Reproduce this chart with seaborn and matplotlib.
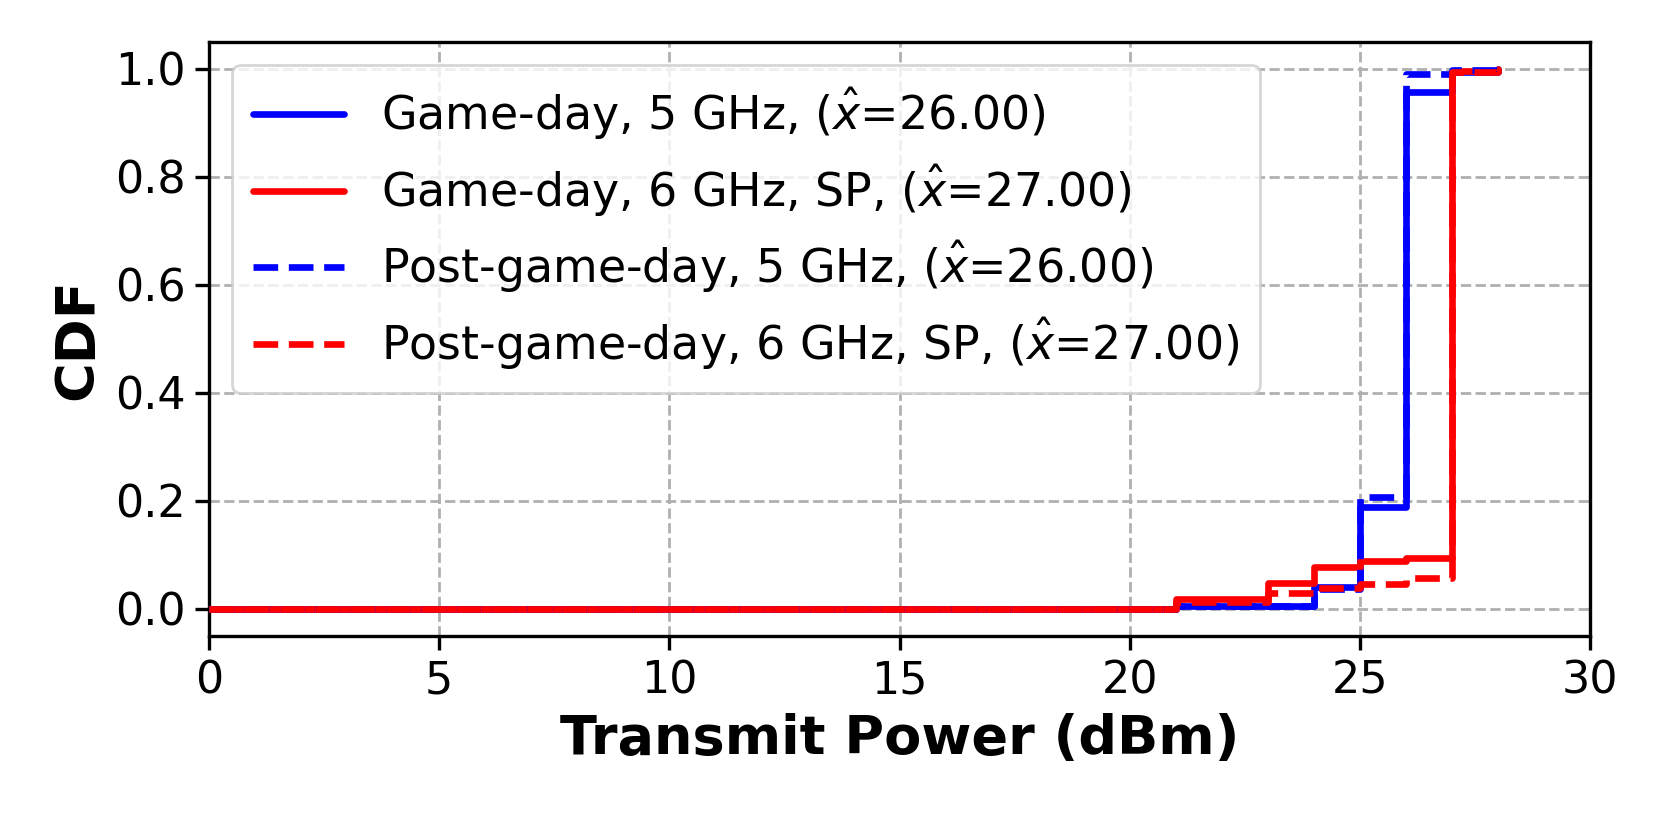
import numpy as np
import pandas as pd
import matplotlib
matplotlib.use("Agg")
import matplotlib.pyplot as plt
import seaborn as sns

# Step CDF points (transmit power dBm, CDF value)
power = [0, 21, 23, 24, 25, 26, 27, 28]
gd_5 = [0.0, 0.005, 0.005, 0.04, 0.188, 0.957, 0.995, 1.0]
gd_6 = [0.0, 0.018, 0.047, 0.077, 0.088, 0.093, 0.996, 1.0]
pgd_5 = [0.0, 0.005, 0.005, 0.036, 0.206, 0.99, 0.998, 1.0]
pgd_6 = [0.0, 0.012, 0.028, 0.038, 0.045, 0.057, 0.995, 1.0]

labels = [
    r"Game-day, 5 GHz, ($\hat{x}$=26.00)",
    r"Game-day, 6 GHz, SP, ($\hat{x}$=27.00)",
    r"Post-game-day, 5 GHz, ($\hat{x}$=26.00)",
    r"Post-game-day, 6 GHz, SP, ($\hat{x}$=27.00)",
]

sns.set_style("ticks")
plt.rcParams["font.family"] = ["DejaVu Sans"]
plt.rcParams["mathtext.fontset"] = "dejavusans"
plt.rcParams["text.color"] = "black"
plt.rcParams["axes.labelcolor"] = "black"
plt.rcParams["xtick.color"] = "black"
plt.rcParams["ytick.color"] = "black"

fig = plt.figure(figsize=(1661 / 200, 830 / 200), dpi=200)
ax = fig.add_axes([209 / 1661, 1 - 635.5 / 830, (1590 - 209) / 1661, (635.5 - 42) / 830])

series = [(gd_5, "blue", "-"), (gd_6, "red", "-"), (pgd_5, "blue", "--"), (pgd_6, "red", "--")]
for (vals, col, ls), lab in zip(series, labels):
    df = pd.DataFrame({"power": power, "cdf": vals})
    sns.lineplot(data=df, x="power", y="cdf", color=col, linestyle=ls, linewidth=2.4,
                 drawstyle="steps-post", label=lab, ax=ax, zorder=3)

ax.set_xlim(0, 30)
ax.set_ylim(-0.05, 1.05)
ax.set_xticks([0, 5, 10, 15, 20, 25, 30])
ax.set_yticks([0.0, 0.2, 0.4, 0.6, 0.8, 1.0])
ax.set_yticklabels(["0.0", "0.2", "0.4", "0.6", "0.8", "1.0"])
ax.grid(True, linestyle="--", color="#b0b0b0", linewidth=1.0)
ax.tick_params(labelsize=16, length=5, width=1.2, colors="black")
for s in ax.spines.values():
    s.set_visible(True)
    s.set_color("black")
    s.set_linewidth(1.2)
ax.set_xlabel("Transmit Power (dBm)", fontsize=19.5, fontweight="bold", color="black")
ax.set_ylabel("CDF", fontsize=19.5, fontweight="bold", color="black")

leg = ax.legend(loc="upper left", fontsize=16.5, frameon=True, framealpha=0.8,
                edgecolor="#cccccc", handlelength=2.0, borderpad=0.45, labelspacing=0.45)
for t in leg.get_texts():
    t.set_color("black")

fig.savefig("out.png", dpi=200)
